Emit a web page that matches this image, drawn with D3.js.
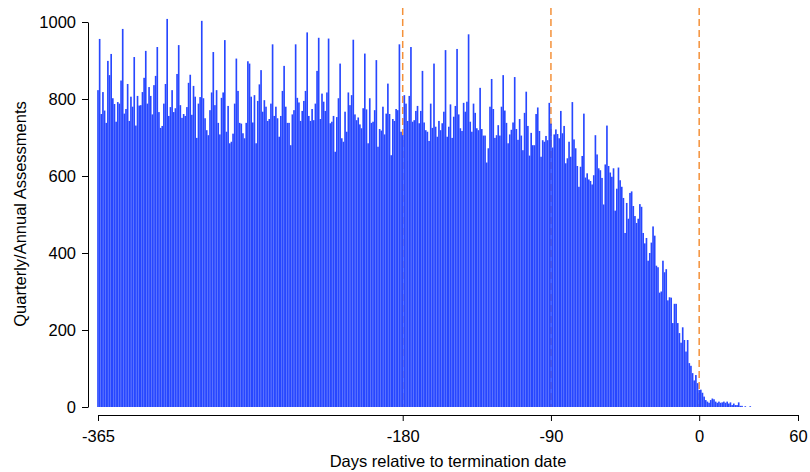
<!DOCTYPE html>
<html>
<head>
<meta charset="utf-8">
<script src="https://cdn.jsdelivr.net/npm/d3@7"></script>
<style>
  body { margin: 0; background: #fff; }
  svg { font-family: "Liberation Sans", Arial, sans-serif; }
</style>
</head>
<body>
<div id="chart"></div>
<script>
// histogram counts, one per day starting at firstDay
var firstDay = -365;
var counts = [
    823,956,761,818,770,738,899,862,917,802,787,741,792,788,848,982,762,774,839,743,806,780,909,731,808,783,784,818,855,925,788,831,808,
    760,836,860,935,766,725,730,788,839,1008,756,779,823,766,776,865,940,784,751,761,756,779,842,863,759,834,806,699,788,805,1003,802,750,
    719,706,771,817,922,784,823,738,708,803,817,953,715,782,685,689,710,788,905,821,738,736,711,698,738,898,892,806,739,810,685,795,838,875,
    767,797,780,743,748,788,942,756,780,750,702,756,821,886,780,738,738,680,760,771,942,803,791,743,769,795,821,973,756,743,774,745,788,873,
    959,748,814,793,769,817,957,737,741,756,663,753,802,892,698,689,767,715,817,784,810,954,760,745,752,734,724,776,918,773,685,802,738,
    741,771,901,676,722,718,780,708,762,840,761,654,748,743,774,771,942,715,706,810,788,743,808,935,741,745,769,782,737,769,873,739,719,
    715,691,788,725,892,728,702,743,719,737,767,927,702,728,786,699,754,782,930,760,724,717,790,767,793,968,741,715,788,764,724,719,829,
    722,705,705,635,672,780,852,774,699,706,732,705,780,862,770,738,685,708,720,739,857,722,694,748,705,667,764,819,730,653,712,680,680,761,
    778,717,650,693,689,704,693,790,736,674,708,721,709,698,769,711,730,633,646,689,650,792,695,672,626,572,624,652,762,596,607,591,587,578,
    602,706,656,620,615,595,526,630,731,626,609,598,620,510,567,622,589,572,543,452,530,489,556,560,522,496,478,489,527,520,452,425,439,
    380,400,427,469,445,367,363,297,300,380,350,358,277,285,284,218,268,268,218,192,167,207,174,144,174,114,107,88,69,83,62,44,45,
    37,27,18,14,11,18,22,20,14,11,14,11,12,14,11,14,9,12,5,9,5,5,12,3,3,0,2,0,0,2
];

var xTicks = [-365, -180, -90, 0, 60];
var yTicks = [0, 200, 400, 600, 800, 1000];
var refLines = [-180, -90, 0];

var svgWidth = 810;
var svgHeight = 472;

var svg = d3.select("#chart")
    .append("svg")
    .attr("width", svgWidth)
    .attr("height", svgHeight);

var x = d3.scaleLinear().domain([-365, 60]).range([98, 798]);
var y = d3.scaleLinear().domain([0, 1000]).range([407, 22]);

var data = counts.map(function(c, i) { return { day: firstDay + i, n: c }; });

// dashed reference lines (behind the bars)
svg.append("g")
    .selectAll("line")
    .data(refLines)
    .enter()
    .append("line")
    .attr("x1", d => x(d))
    .attr("x2", d => x(d))
    .attr("y1", 8)
    .attr("y2", y(0))
    .attr("stroke", "#f4913a")
    .attr("stroke-width", 1.5)
    .attr("stroke-dasharray", "7,4");

// bars
svg.append("g")
    .selectAll("rect")
    .data(data)
    .enter()
    .append("rect")
    .attr("x", d => x(d.day - 0.5))
    .attr("width", d => x(d.day + 0.5) - x(d.day - 0.5))
    .attr("y", d => y(d.n))
    .attr("height", d => y(0) - y(d.n))
    .attr("fill", "#2747ff");

// axes
var yAxis = svg.append("g")
    .attr("transform", "translate(88,0)")
    .call(d3.axisLeft(y).tickValues(yTicks).tickFormat(d => String(d))
        .tickSize(6).tickSizeOuter(0).tickPadding(6));

var xAxis = svg.append("g")
    .attr("transform", "translate(0,415)")
    .call(d3.axisBottom(x).tickValues(xTicks).tickFormat(d => String(d))
        .tickSize(6).tickSizeOuter(0).tickPadding(9));

svg.selectAll(".tick text")
    .style("font-size", "16.5px")
    .attr("fill", "#000");
svg.selectAll(".domain, .tick line").attr("stroke", "#000");

// axis titles
svg.append("text")
    .attr("x", 448)
    .attr("y", 467)
    .attr("text-anchor", "middle")
    .style("font-size", "16.5px")
    .text("Days relative to termination date");

svg.append("text")
    .attr("transform", "translate(26,214) rotate(-90)")
    .attr("text-anchor", "middle")
    .style("font-size", "16.5px")
    .text("Quarterly/Annual Assessments");
</script>
</body>
</html>
